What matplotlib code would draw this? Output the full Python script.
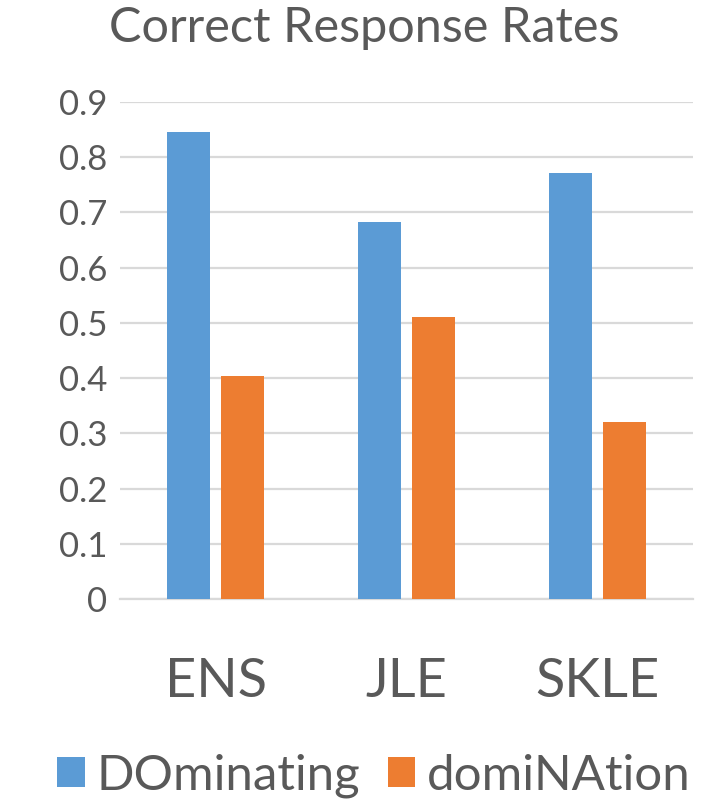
import matplotlib
matplotlib.use("Agg")
import matplotlib.pyplot as plt
from matplotlib.patches import Patch
import numpy as np

categories = ["ENS", "JLE", "SKLE"]
dominating = [0.845, 0.682, 0.772]
domination = [0.404, 0.511, 0.320]
series_names = ["DOminating", "domiNAtion"]
yticks = [0, 0.1, 0.2, 0.3, 0.4, 0.5, 0.6, 0.7, 0.8, 0.9]
ytick_labels = ["0", "0.1", "0.2", "0.3", "0.4", "0.5", "0.6", "0.7", "0.8", "0.9"]

BLUE = "#5b9bd5"
ORANGE = "#ed7d31"
TEXT = "#595959"
GRID = "#d9d9d9"

plt.rcParams["font.family"] = ["Lato", "DejaVu Sans"]

fig = plt.figure(figsize=(7.10, 7.99), dpi=100)
ax = fig.add_axes([120 / 710, 1 - 599 / 799, (693 - 120) / 710, (599 - 102) / 799])

x = np.arange(len(categories))
width = 0.225
offset = 0.141
ax.bar(x - offset, dominating, width, color=BLUE, zorder=3)
ax.bar(x + offset, domination, width, color=ORANGE, zorder=3)

ax.set_xlim(-0.5, len(categories) - 0.5)
ax.set_ylim(0, 0.9)
ax.set_yticks(yticks)
ax.set_yticklabels(ytick_labels)
ax.set_xticks(x)
ax.set_xticklabels(categories)

ax.yaxis.grid(True, color=GRID, linewidth=1.6, zorder=0)
ax.set_axisbelow(True)
for side in ["top", "right", "left"]:
    ax.spines[side].set_visible(False)
ax.spines["bottom"].set_color(GRID)
ax.spines["bottom"].set_linewidth(1.6)

ax.tick_params(axis="y", length=0, pad=9, labelsize=25, labelcolor=TEXT)
ax.tick_params(axis="x", length=0, pad=42, labelsize=39, labelcolor=TEXT)

fig.text(0.5127, 1 - 28 / 799, "Correct Response Rates", ha="center", va="center",
         fontsize=35, color=TEXT)

handles = [Patch(facecolor=BLUE), Patch(facecolor=ORANGE)]
fig.legend(handles, series_names, loc="center", bbox_to_anchor=(0.527, 1 - 776 / 799),
           ncol=2, frameon=False, fontsize=35.5, labelcolor=TEXT,
           handlelength=0.55, handleheight=0.55, handletextpad=0.25, columnspacing=0.55)

fig.savefig("out.png", dpi=100)
